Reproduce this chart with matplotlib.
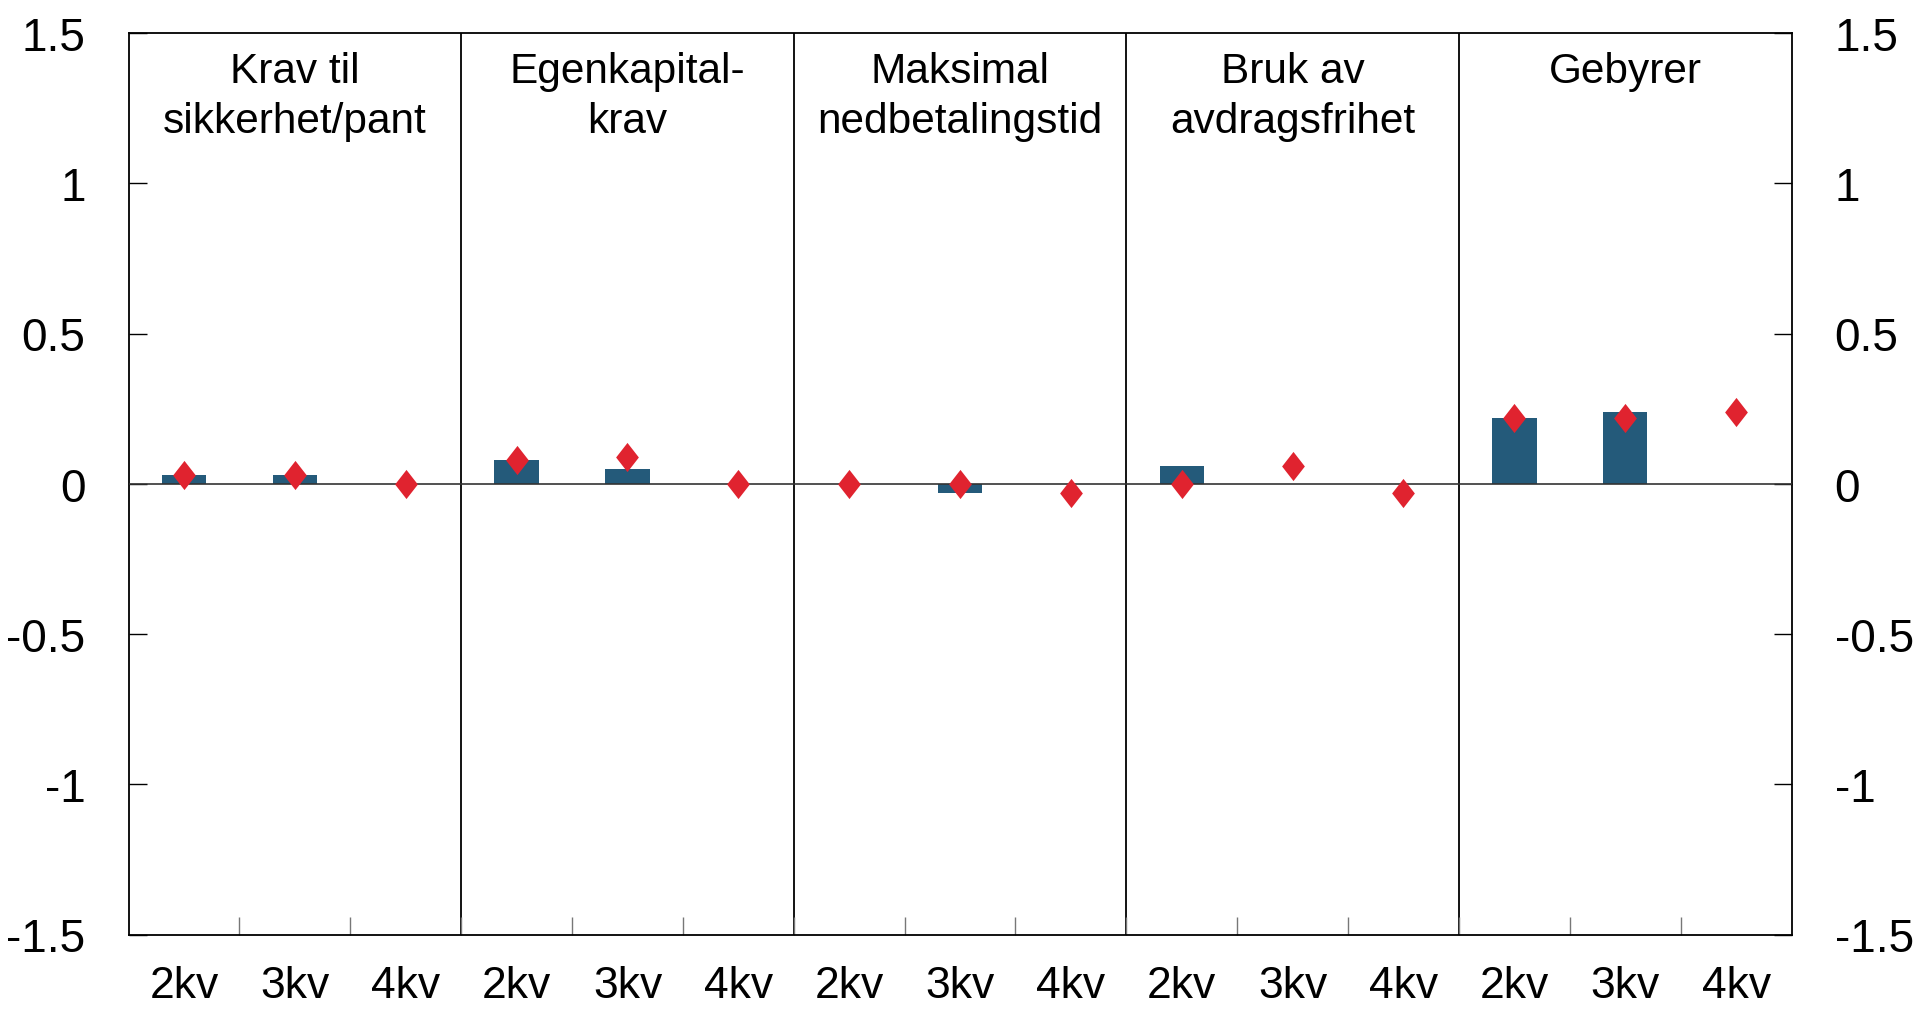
import matplotlib
matplotlib.use("Agg")
import matplotlib.pyplot as plt
from matplotlib.path import Path

plt.rcParams['font.family'] = ['Liberation Sans', 'DejaVu Sans']

# Groups and quarters
groups = ["Krav til\nsikkerhet/pant", "Egenkapital-\nkrav", "Maksimal\nnedbetalingstid",
          "Bruk av\navdragsfrihet", "Gebyrer"]
quarters = ["2kv", "3kv", "4kv"]

# Bars (realised) and diamonds (expected), 3 quarters per group
bar_values = [0.03, 0.03, 0.0,
              0.08, 0.05, 0.0,
              0.0, -0.03, 0.0,
              0.06, 0.0, 0.0,
              0.22, 0.24, 0.0]
diamond_values = [0.03, 0.03, 0.0,
                  0.08, 0.09, 0.0,
                  0.0, 0.0, -0.03,
                  0.0, 0.06, -0.03,
                  0.22, 0.22, 0.24]

y_ticks = [-1.5, -1, -0.5, 0, 0.5, 1, 1.5]
y_labels = ["-1.5", "-1", "-0.5", "0", "0.5", "1", "1.5"]

BAR_COLOR = '#245a7a'
DIAMOND_COLOR = '#e0232f'

# wider-than-thin diamond
diamond = Path([(0, 1), (0.78, 0), (0, -1), (-0.78, 0), (0, 1)],
               [Path.MOVETO, Path.LINETO, Path.LINETO, Path.LINETO, Path.CLOSEPOLY])

fig = plt.figure(figsize=(19.2, 10.12), dpi=100)
ax = fig.add_axes([128.6 / 1920, 1 - 935.5 / 1012, (1791.5 - 128.6) / 1920, (935.5 - 34) / 1012])

n = len(groups) * len(quarters)
xs = list(range(n))

ax.bar(xs, bar_values, width=0.4, color=BAR_COLOR, zorder=2)
ax.axhline(0, color='#333333', lw=1.2, zorder=3)
ax.plot(xs, diamond_values, linestyle='none', marker=diamond, markersize=21,
        color=DIAMOND_COLOR, markeredgewidth=0, zorder=4)

# group separators and titles
for i, name in enumerate(groups):
    if i > 0:
        ax.axvline(i * 3 - 0.5, color='black', lw=1.3, zorder=1)
    ax.text(i * 3 + 1, 1.44, name, ha='center', va='top', fontsize=30.5,
            linespacing=1.32)

ax.set_xlim(-0.5, n - 0.5)
ax.set_ylim(-1.5, 1.5)

ax.set_xticks(xs)
ax.set_xticklabels(quarters * len(groups), fontsize=32)
ax.set_xticks([x + 0.5 for x in range(n - 1)], minor=True)
ax.tick_params(axis='x', which='major', length=0, pad=22)
ax.tick_params(axis='x', which='minor', direction='in', length=13, width=1, color='#777777')

ax.set_yticks(y_ticks)
ax.set_yticklabels(y_labels, fontsize=33)
ax.tick_params(axis='y', direction='in', length=13, width=1, pad=31,
               left=True, right=True, labelleft=True, labelright=True)

for s in ax.spines.values():
    s.set_linewidth(1.3)

fig.savefig('out.png', dpi=100)
